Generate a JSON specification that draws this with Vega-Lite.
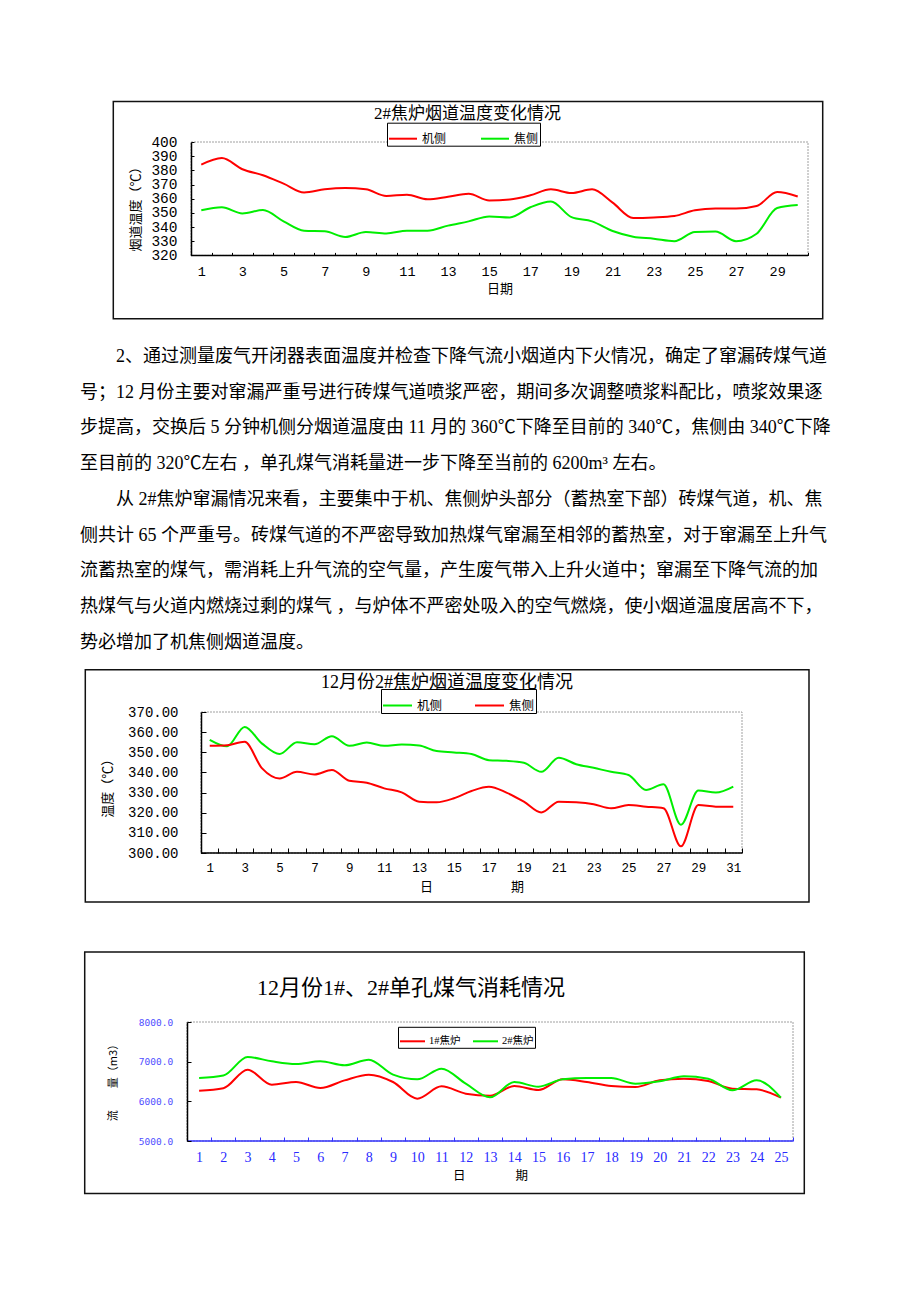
{
"$schema": "https://vega.github.io/schema/vega-lite/v6.json",
"background": "white",
"padding": {"left": 80, "top": 100, "right": 0, "bottom": 0},
"bounds": "flush",
"spacing": 0,
"resolve": {"scale": {"color": "independent", "x": "independent", "y": "independent"}, "legend": {"color": "independent"}},
"config": {"view": {"stroke": null}, "axis": {"labelOverlap": false, "grid": false}},
"datasets": {
"para": [
{"line": 1, "t": "\u200b　　2、通过测量废气开闭器表面温度并检查下降气流小烟道内下火情况，确定了窜漏砖煤气道"},
{"line": 2, "t": "号；12 月份主要对窜漏严重号进行砖煤气道喷浆严密，期间多次调整喷浆料配比，喷浆效果逐"},
{"line": 3, "t": "步提高，交换后 5 分钟机侧分烟道温度由 11 月的 360℃下降至目前的 340℃，焦侧由 340℃下降"},
{"line": 4, "t": "至目前的 320℃左右 ，单孔煤气消耗量进一步下降至当前的 6200m³ 左右。"},
{"line": 5, "t": "\u200b　　从 2#焦炉窜漏情况来看，主要集中于机、焦侧炉头部分（蓄热室下部）砖煤气道，机、焦"},
{"line": 6, "t": "侧共计 65 个严重号。砖煤气道的不严密导致加热煤气窜漏至相邻的蓄热室，对于窜漏至上升气"},
{"line": 7, "t": "流蓄热室的煤气，需消耗上升气流的空气量，产生废气带入上升火道中；窜漏至下降气流的加"},
{"line": 8, "t": "热煤气与火道内燃烧过剩的煤气 ，与炉体不严密处吸入的空气燃烧，使小烟道温度居高不下，"},
{"line": 9, "t": "势必增加了机焦侧烟道温度。"}
],
"c1": [
{"d":1,"s":"机侧","v":384},{"d":2,"s":"机侧","v":388.7},{"d":3,"s":"机侧","v":380.8},{"d":4,"s":"机侧","v":376.5},{"d":5,"s":"机侧","v":370.6},{"d":6,"s":"机侧","v":364.4},{"d":7,"s":"机侧","v":366.6},{"d":8,"s":"机侧","v":367.5},{"d":9,"s":"机侧","v":366.6},{"d":10,"s":"机侧","v":361.9},{"d":11,"s":"机侧","v":362.8},{"d":12,"s":"机侧","v":359.6},{"d":13,"s":"机侧","v":361.4},{"d":14,"s":"机侧","v":363.5},{"d":15,"s":"机侧","v":358.8},{"d":16,"s":"机侧","v":359.5},{"d":17,"s":"机侧","v":362.4},{"d":18,"s":"机侧","v":366.6},{"d":19,"s":"机侧","v":364},{"d":20,"s":"机侧","v":366.6},{"d":21,"s":"机侧","v":357.2},{"d":22,"s":"机侧","v":346.4},{"d":23,"s":"机侧","v":346.8},{"d":24,"s":"机侧","v":347.8},{"d":25,"s":"机侧","v":351.8},{"d":26,"s":"机侧","v":353},{"d":27,"s":"机侧","v":353},{"d":28,"s":"机侧","v":354.8},{"d":29,"s":"机侧","v":364.7},{"d":30,"s":"机侧","v":361.6},
{"d":1,"s":"焦侧","v":351.8},{"d":2,"s":"焦侧","v":353.9},{"d":3,"s":"焦侧","v":349.6},{"d":4,"s":"焦侧","v":352},{"d":5,"s":"焦侧","v":344},{"d":6,"s":"焦侧","v":337.4},{"d":7,"s":"焦侧","v":337},{"d":8,"s":"焦侧","v":333},{"d":9,"s":"焦侧","v":336.5},{"d":10,"s":"焦侧","v":335.5},{"d":11,"s":"焦侧","v":337.4},{"d":12,"s":"焦侧","v":337.4},{"d":13,"s":"焦侧","v":341},{"d":14,"s":"焦侧","v":344},{"d":15,"s":"焦侧","v":347.5},{"d":16,"s":"焦侧","v":346.8},{"d":17,"s":"焦侧","v":354},{"d":18,"s":"焦侧","v":358},{"d":19,"s":"焦侧","v":347},{"d":20,"s":"焦侧","v":344},{"d":21,"s":"焦侧","v":337.2},{"d":22,"s":"焦侧","v":333.2},{"d":23,"s":"焦侧","v":331.8},{"d":24,"s":"焦侧","v":330},{"d":25,"s":"焦侧","v":336.5},{"d":26,"s":"焦侧","v":336.8},{"d":27,"s":"焦侧","v":330},{"d":28,"s":"焦侧","v":335.3},{"d":29,"s":"焦侧","v":353.4},{"d":30,"s":"焦侧","v":355.5}
],
"c2": [
{"d":1,"s":"机侧","v":356.2},{"d":2,"s":"机侧","v":353},{"d":3,"s":"机侧","v":362.6},{"d":4,"s":"机侧","v":354.3},{"d":5,"s":"机侧","v":349.1},{"d":6,"s":"机侧","v":355},{"d":7,"s":"机侧","v":354},{"d":8,"s":"机侧","v":358},{"d":9,"s":"机侧","v":353.2},{"d":10,"s":"机侧","v":354.8},{"d":11,"s":"机侧","v":353.2},{"d":12,"s":"机侧","v":353.9},{"d":13,"s":"机侧","v":353.4},{"d":14,"s":"机侧","v":350.6},{"d":15,"s":"机侧","v":349.9},{"d":16,"s":"机侧","v":349.1},{"d":17,"s":"机侧","v":346.1},{"d":18,"s":"机侧","v":345.8},{"d":19,"s":"机侧","v":344.8},{"d":20,"s":"机侧","v":340.3},{"d":21,"s":"机侧","v":347.3},{"d":22,"s":"机侧","v":344.1},{"d":23,"s":"机侧","v":342.3},{"d":24,"s":"机侧","v":340.3},{"d":25,"s":"机侧","v":338.7},{"d":26,"s":"机侧","v":331.3},{"d":27,"s":"机侧","v":334.1},{"d":28,"s":"机侧","v":314},{"d":29,"s":"机侧","v":331},{"d":30,"s":"机侧","v":330},{"d":31,"s":"机侧","v":333},
{"d":1,"s":"焦侧","v":353.2},{"d":2,"s":"焦侧","v":353.5},{"d":3,"s":"焦侧","v":355.2},{"d":4,"s":"焦侧","v":342},{"d":5,"s":"焦侧","v":337},{"d":6,"s":"焦侧","v":340.3},{"d":7,"s":"焦侧","v":339},{"d":8,"s":"焦侧","v":341.2},{"d":9,"s":"焦侧","v":335.9},{"d":10,"s":"焦侧","v":334.9},{"d":11,"s":"焦侧","v":332.1},{"d":12,"s":"焦侧","v":330.1},{"d":13,"s":"焦侧","v":325.5},{"d":14,"s":"焦侧","v":325.2},{"d":15,"s":"焦侧","v":327.2},{"d":16,"s":"焦侧","v":330.8},{"d":17,"s":"焦侧","v":332.9},{"d":18,"s":"焦侧","v":330},{"d":19,"s":"焦侧","v":325.5},{"d":20,"s":"焦侧","v":320.1},{"d":21,"s":"焦侧","v":325.5},{"d":22,"s":"焦侧","v":325.2},{"d":23,"s":"焦侧","v":324.2},{"d":24,"s":"焦侧","v":322.2},{"d":25,"s":"焦侧","v":323.8},{"d":26,"s":"焦侧","v":323},{"d":27,"s":"焦侧","v":322.2},{"d":28,"s":"焦侧","v":303.3},{"d":29,"s":"焦侧","v":323.8},{"d":30,"s":"焦侧","v":323},{"d":31,"s":"焦侧","v":323}
],
"c3": [
{"d":1,"s":"1#焦炉","v":6269},{"d":2,"s":"1#焦炉","v":6330},{"d":3,"s":"1#焦炉","v":6798},{"d":4,"s":"1#焦炉","v":6420},{"d":5,"s":"1#焦炉","v":6487},{"d":6,"s":"1#焦炉","v":6336},{"d":7,"s":"1#焦炉","v":6529},{"d":8,"s":"1#焦炉","v":6672},{"d":9,"s":"1#焦炉","v":6487},{"d":10,"s":"1#焦炉","v":6067},{"d":11,"s":"1#焦炉","v":6378},{"d":12,"s":"1#焦炉","v":6193},{"d":13,"s":"1#焦炉","v":6140},{"d":14,"s":"1#焦炉","v":6387},{"d":15,"s":"1#焦炉","v":6286},{"d":16,"s":"1#焦炉","v":6555},{"d":17,"s":"1#焦炉","v":6487},{"d":18,"s":"1#焦炉","v":6387},{"d":19,"s":"1#焦炉","v":6361},{"d":20,"s":"1#焦炉","v":6529},{"d":21,"s":"1#焦炉","v":6571},{"d":22,"s":"1#焦炉","v":6513},{"d":23,"s":"1#焦炉","v":6319},{"d":24,"s":"1#焦炉","v":6302},{"d":25,"s":"1#焦炉","v":6092},
{"d":1,"s":"2#焦炉","v":6588},{"d":2,"s":"2#焦炉","v":6650},{"d":3,"s":"2#焦炉","v":7118},{"d":4,"s":"2#焦炉","v":7008},{"d":5,"s":"2#焦炉","v":6941},{"d":6,"s":"2#焦炉","v":7008},{"d":7,"s":"2#焦炉","v":6908},{"d":8,"s":"2#焦炉","v":7050},{"d":9,"s":"2#焦炉","v":6672},{"d":10,"s":"2#焦炉","v":6555},{"d":11,"s":"2#焦炉","v":6824},{"d":12,"s":"2#焦炉","v":6445},{"d":13,"s":"2#焦炉","v":6100},{"d":14,"s":"2#焦炉","v":6487},{"d":15,"s":"2#焦炉","v":6370},{"d":16,"s":"2#焦炉","v":6555},{"d":17,"s":"2#焦炉","v":6588},{"d":18,"s":"2#焦炉","v":6588},{"d":19,"s":"2#焦炉","v":6445},{"d":20,"s":"2#焦炉","v":6504},{"d":21,"s":"2#焦炉","v":6630},{"d":22,"s":"2#焦炉","v":6571},{"d":23,"s":"2#焦炉","v":6277},{"d":24,"s":"2#焦炉","v":6529},{"d":25,"s":"2#焦炉","v":6092}
]
},
"vconcat": [
{
"width": 728, "height": 113.4,
"resolve": {"axis": {"x": "independent", "y": "independent"}},
"layer": [
{"data": {"values": [{}]}, "mark": {"type": "rect", "filled": false, "color": "#111111", "strokeWidth": 1.5},
"encoding": {
"x": {"datum": -3.278, "type": "quantitative", "scale": {"domain": [-4.8971, 30.5], "nice": false, "zero": false}, "axis": null},
"x2": {"datum": 31.215},
"y": {"datum": 428.64, "type": "quantitative", "scale": {"domain": [320, 400], "nice": false, "zero": false}, "axis": null},
"y2": {"datum": 275.34}}},
{"data": {"values": [{}]}, "mark": {"type": "rect", "filled": false, "color": "#a0a0a0", "strokeWidth": 1, "strokeDash": [2, 1]},
"encoding": {
"x": {"datum": 0.5, "type": "quantitative", "scale": {"domain": [-4.8971, 30.5], "nice": false, "zero": false}, "axis": null},
"x2": {"datum": 30.5},
"y": {"datum": 400, "type": "quantitative", "scale": {"domain": [320, 400], "nice": false, "zero": false}, "axis": null},
"y2": {"datum": 320}}},
{"data": {"values": [{}]}, "mark": {"type": "rule", "color": "black", "strokeWidth": 1.5},
"encoding": {
"x": {"datum": 0.5, "type": "quantitative", "scale": {"domain": [-4.8971, 30.5], "nice": false, "zero": false}, "axis": null},
"x2": {"datum": 30.5},
"y": {"datum": 320, "type": "quantitative", "scale": {"domain": [320, 400], "nice": false, "zero": false}, "axis": null}}},
{"data": {"values": [{}]}, "mark": {"type": "text", "text": "2#焦炉烟道温度变化情况", "font": "Liberation Serif, Noto Sans CJK SC", "fontSize": 17, "align": "center", "baseline": "middle", "color": "black"},
"encoding": {
"x": {"datum": 13.944, "type": "quantitative", "scale": {"domain": [-4.8971, 30.5], "nice": false, "zero": false}, "axis": null},
"y": {"datum": 419.96, "type": "quantitative", "scale": {"domain": [320, 400], "nice": false, "zero": false}, "axis": null}}},
{"data": {"name": "c1"}, "mark": {"type": "line", "interpolate": "monotone", "strokeWidth": 2},
"encoding": {
"x": {"field": "d", "type": "quantitative", "scale": {"domain": [-4.8971, 30.5], "nice": false, "zero": false},
"axis": {"orient": "bottom", "values": [0.5,1,1.5,2,2.5,3,3.5,4,4.5,5,5.5,6,6.5,7,7.5,8,8.5,9,9.5,10,10.5,11,11.5,12,12.5,13,13.5,14,14.5,15,15.5,16,16.5,17,17.5,18,18.5,19,19.5,20,20.5,21,21.5,22,22.5,23,23.5,24,24.5,25,25.5,26,26.5,27,27.5,28,28.5,29,29.5,30,30.5],
"labelExpr": "datum.value % 2 == 1 ? '' + datum.value : ''",
"labelOverlap": false, "labelFlush": false, "labelBound": false, "domain": false,
"tickSize": -3, "tickColor": "black", "tickWidth": 1,
"tickOpacity": {"condition": {"test": "datum.value % 1 == 0", "value": 0}, "value": 1},
"labelFont": "Liberation Mono", "labelFontSize": 13.5, "labelColor": "black", "labelBaseline": "middle", "labelPadding": 19.5,
"title": "日期", "titleFont": "Noto Sans CJK SC", "titleFontSize": 13, "titleFontWeight": "normal", "titleColor": "black",
"titleX": 419.5, "titleY": 33.3, "titleAlign": "center", "titleBaseline": "middle", "zindex": 1}},
"y": {"field": "v", "type": "quantitative", "scale": {"domain": [320, 400], "nice": false, "zero": false},
"axis": {"orient": "left", "values": [320,330,340,350,360,370,380,390,400], "offset": -111, "labelOverlap": false,
"tickSize": -3, "tickColor": "black", "domainColor": "black", "domainWidth": 1.5,
"labelFont": "Liberation Mono", "labelFontSize": 14.5, "labelColor": "black", "labelPadding": 17,
"title": "烟道温度（℃）", "titleFont": "Noto Sans CJK SC", "titleFontSize": 13, "titleFontWeight": "normal", "titleColor": "black",
"titleX": -56, "titleY": 63.4, "titleAngle": -90, "titleAlign": "center", "titleBaseline": "middle", "zindex": 1}},
"color": {"field": "s", "type": "nominal", "scale": {"domain": ["机侧", "焦侧"], "range": ["#ff0000", "#00ee00"]},
"legend": {"orient": "none", "legendX": 307, "legendY": -19.3, "direction": "horizontal", "title": null,
"strokeColor": "black", "fillColor": "white", "padding": 1, "symbolType": "stroke", "symbolSize": 784, "symbolStrokeWidth": 2,
"labelFont": "Noto Sans CJK SC", "labelFontSize": 12, "labelColor": "black", "labelOffset": 4, "columnPadding": 30, "zindex": 2}}
}}
]
},
{"width": 1, "height": 82.1, "data": {"values": []}, "mark": "point"},
{
"width": 763, "height": 321.75,
"data": {"name": "para"},
"mark": {"type": "text", "align": "left", "baseline": "middle", "font": "Liberation Serif, Noto Sans CJK SC", "fontSize": 18, "color": "black"},
"encoding": {
"y": {"field": "line", "type": "ordinal", "axis": null, "scale": {"paddingInner": 0, "paddingOuter": 0}},
"x": {"datum": 0, "type": "quantitative", "scale": {"domain": [0, 1]}, "axis": null},
"text": {"field": "t", "type": "nominal"}
}
},
{"width": 1, "height": 50.725, "data": {"values": []}, "mark": "point"},
{
"width": 662, "height": 141,
"resolve": {"axis": {"x": "independent", "y": "independent"}},
"layer": [
{"data": {"values": [{}]}, "mark": {"type": "rect", "filled": false, "color": "#111111", "strokeWidth": 1.5},
"encoding": {
"x": {"datum": -6.13, "type": "quantitative", "scale": {"domain": [-6.4334, 31.5], "nice": false, "zero": false}, "axis": null},
"x2": {"datum": 35.339},
"y": {"datum": 391.0, "type": "quantitative", "scale": {"domain": [300, 370], "nice": false, "zero": false}, "axis": null},
"y2": {"datum": 275.67}}},
{"data": {"values": [{}]}, "mark": {"type": "rect", "filled": false, "color": "#a0a0a0", "strokeWidth": 1, "strokeDash": [2, 1]},
"encoding": {
"x": {"datum": 0.5, "type": "quantitative", "scale": {"domain": [-6.4334, 31.5], "nice": false, "zero": false}, "axis": null},
"x2": {"datum": 31.5},
"y": {"datum": 370, "type": "quantitative", "scale": {"domain": [300, 370], "nice": false, "zero": false}, "axis": null},
"y2": {"datum": 300}}},
{"data": {"values": [{}]}, "mark": {"type": "rule", "color": "black", "strokeWidth": 1.5},
"encoding": {
"x": {"datum": 0.5, "type": "quantitative", "scale": {"domain": [-6.4334, 31.5], "nice": false, "zero": false}, "axis": null},
"x2": {"datum": 31.5},
"y": {"datum": 300, "type": "quantitative", "scale": {"domain": [300, 370], "nice": false, "zero": false}, "axis": null}}},
{"data": {"values": [{}]}, "mark": {"type": "text", "text": "12月份2#焦炉烟道温度变化情况", "font": "Liberation Serif, Noto Sans CJK SC", "fontSize": 18, "align": "center", "baseline": "middle", "color": "black"},
"encoding": {
"x": {"datum": 14.596, "type": "quantitative", "scale": {"domain": [-6.4334, 31.5], "nice": false, "zero": false}, "axis": null},
"y": {"datum": 384.55, "type": "quantitative", "scale": {"domain": [300, 370], "nice": false, "zero": false}, "axis": null}}},
{"data": {"name": "c2"}, "mark": {"type": "line", "interpolate": "monotone", "strokeWidth": 2},
"encoding": {
"x": {"field": "d", "type": "quantitative", "scale": {"domain": [-6.4334, 31.5], "nice": false, "zero": false},
"axis": {"orient": "bottom", "values": [0.5,1,1.5,2,2.5,3,3.5,4,4.5,5,5.5,6,6.5,7,7.5,8,8.5,9,9.5,10,10.5,11,11.5,12,12.5,13,13.5,14,14.5,15,15.5,16,16.5,17,17.5,18,18.5,19,19.5,20,20.5,21,21.5,22,22.5,23,23.5,24,24.5,25,25.5,26,26.5,27,27.5,28,28.5,29,29.5,30,30.5,31,31.5],
"labelExpr": "datum.value % 2 == 1 ? '' + datum.value : ''",
"labelOverlap": false, "labelFlush": false, "labelBound": false, "domain": false,
"tickSize": -5, "tickColor": "black", "tickWidth": 1,
"tickOpacity": {"condition": {"test": "datum.value % 1 == 0", "value": 0}, "value": 1},
"labelFont": "Liberation Mono", "labelFontSize": 12.5, "labelColor": "black", "labelBaseline": "middle", "labelPadding": 19.0,
"title": "日　　　　　　期", "titleFont": "Noto Sans CJK SC", "titleFontSize": 13, "titleFontWeight": "normal", "titleColor": "black",
"titleX": 391.5, "titleY": 33.2, "titleAlign": "center", "titleBaseline": "middle", "zindex": 1}},
"y": {"field": "v", "type": "quantitative", "scale": {"domain": [300, 370], "nice": false, "zero": false},
"axis": {"orient": "left", "values": [300,310,320,330,340,350,360,370], "format": ".2f", "offset": -121, "labelOverlap": false,
"tickSize": -5, "tickColor": "black", "domainColor": "black", "domainWidth": 1.5,
"labelFont": "Liberation Mono", "labelFontSize": 14, "labelColor": "black", "labelPadding": 28,
"title": "温度（℃）", "titleFont": "Noto Sans CJK SC", "titleFontSize": 13, "titleFontWeight": "normal", "titleColor": "black",
"titleX": -94, "titleY": 72.7, "titleAngle": -90, "titleAlign": "center", "titleBaseline": "middle", "zindex": 1}},
"color": {"field": "s", "type": "nominal", "scale": {"domain": ["机侧", "焦侧"], "range": ["#00ee00", "#ff0000"]},
"legend": {"orient": "none", "legendX": 301, "legendY": -23, "direction": "horizontal", "title": null,
"strokeColor": "black", "fillColor": "white", "padding": 1, "symbolType": "stroke", "symbolSize": 841, "symbolStrokeWidth": 2,
"labelFont": "Noto Sans CJK SC", "labelFontSize": 12.5, "labelColor": "black", "labelOffset": 4, "columnPadding": 28, "zindex": 2}}
}}
]
},
{"width": 1, "height": 168.4, "data": {"values": []}, "mark": "point"},
{
"width": 713, "height": 119,
"resolve": {"axis": {"x": "independent", "y": "independent"}},
"layer": [
{"data": {"values": [{}]}, "mark": {"type": "rect", "filled": false, "color": "#111111", "strokeWidth": 1.5},
"encoding": {
"x": {"datum": -3.72, "type": "quantitative", "scale": {"domain": [-3.9142, 25.5], "nice": false, "zero": false}, "axis": null},
"x2": {"datum": 25.966},
"y": {"datum": 9764.7, "type": "quantitative", "scale": {"domain": [5000, 8000], "nice": false, "zero": false}, "axis": null},
"y2": {"datum": 3673.9}}},
{"data": {"values": [{}]}, "mark": {"type": "rect", "filled": false, "color": "#a0a0a0", "strokeWidth": 1, "strokeDash": [2, 1]},
"encoding": {
"x": {"datum": 0.5, "type": "quantitative", "scale": {"domain": [-3.9142, 25.5], "nice": false, "zero": false}, "axis": null},
"x2": {"datum": 25.5},
"y": {"datum": 8000, "type": "quantitative", "scale": {"domain": [5000, 8000], "nice": false, "zero": false}, "axis": null},
"y2": {"datum": 5000}}},
{"data": {"values": [{}]}, "mark": {"type": "rule", "color": "#3333ff", "strokeWidth": 1.5},
"encoding": {
"x": {"datum": 0.5, "type": "quantitative", "scale": {"domain": [-3.9142, 25.5], "nice": false, "zero": false}, "axis": null},
"x2": {"datum": 25.5},
"y": {"datum": 5000, "type": "quantitative", "scale": {"domain": [5000, 8000], "nice": false, "zero": false}, "axis": null}}},
{"data": {"values": [{}]}, "mark": {"type": "text", "text": "12月份1#、2#单孔煤气消耗情况", "font": "Liberation Serif, Noto Sans CJK SC", "fontSize": 22, "align": "left", "baseline": "middle", "color": "black"},
"encoding": {
"x": {"datum": 3.388, "type": "quantitative", "scale": {"domain": [-3.9142, 25.5], "nice": false, "zero": false}, "axis": null},
"y": {"datum": 8857, "type": "quantitative", "scale": {"domain": [5000, 8000], "nice": false, "zero": false}, "axis": null}}},
{"data": {"name": "c3"}, "mark": {"type": "line", "interpolate": "monotone", "strokeWidth": 2},
"encoding": {
"x": {"field": "d", "type": "quantitative", "scale": {"domain": [-3.9142, 25.5], "nice": false, "zero": false},
"axis": {"orient": "bottom", "values": [0.5,1,1.5,2,2.5,3,3.5,4,4.5,5,5.5,6,6.5,7,7.5,8,8.5,9,9.5,10,10.5,11,11.5,12,12.5,13,13.5,14,14.5,15,15.5,16,16.5,17,17.5,18,18.5,19,19.5,20,20.5,21,21.5,22,22.5,23,23.5,24,24.5,25,25.5],
"labelExpr": "datum.value % 1 == 0 ? '' + datum.value : ''",
"labelOverlap": false, "labelFlush": false, "labelBound": false, "domain": false,
"tickSize": -4, "tickColor": "#3333ff", "tickWidth": 1,
"tickOpacity": {"condition": {"test": "datum.value % 1 == 0", "value": 0}, "value": 1},
"labelFont": "Liberation Serif", "labelFontSize": 14, "labelColor": "#2a2aff", "labelBaseline": "middle", "labelPadding": 20.2,
"title": "日　　　　期", "titleFont": "Noto Sans CJK SC", "titleFontSize": 12.5, "titleFontWeight": "normal", "titleColor": "black",
"titleX": 410, "titleY": 34.5, "titleAlign": "center", "titleBaseline": "middle", "zindex": 1}},
"y": {"field": "v", "type": "quantitative", "scale": {"domain": [5000, 8000], "nice": false, "zero": false},
"axis": {"orient": "left", "values": [5000, 6000, 7000, 8000], "format": ".1f", "offset": -107, "labelOverlap": false,
"tickSize": -4, "tickColor": "black", "domainColor": "black", "domainWidth": 1.5,
"labelFont": "DejaVu Sans Mono", "labelFontSize": 9.5, "labelColor": "#5050ff", "labelPadding": 18.3,
"title": "流　　量（m3）", "titleFont": "Noto Sans CJK SC", "titleFontSize": 11, "titleFontWeight": "normal", "titleColor": "black",
"titleX": -73.3, "titleY": 57.5, "titleAngle": -90, "titleAlign": "center", "titleBaseline": "middle", "zindex": 1}},
"color": {"field": "s", "type": "nominal", "scale": {"domain": ["1#焦炉", "2#焦炉"], "range": ["#ff0000", "#00ee00"]},
"legend": {"orient": "none", "legendX": 318, "legendY": 4.8, "direction": "horizontal", "title": null,
"strokeColor": "black", "fillColor": "white", "padding": 1, "symbolType": "stroke", "symbolSize": 625, "symbolStrokeWidth": 2,
"labelFont": "Liberation Serif, Noto Sans CJK SC", "labelFontSize": 10.5, "labelColor": "black", "labelOffset": 3, "columnPadding": 8, "zindex": 2}}
}}
]
}
]
}
